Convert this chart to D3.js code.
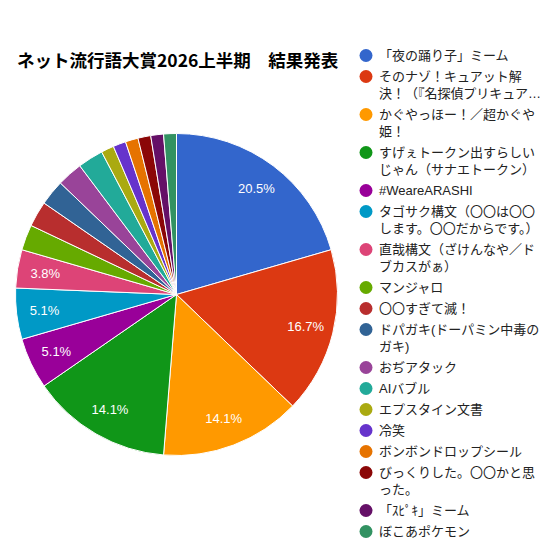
<!DOCTYPE html>
<html>
<head>
<meta charset="utf-8">
<script src="https://cdn.jsdelivr.net/npm/d3@7"></script>
<style>
  body { margin: 0; background: #fff; }
  svg { display: block; }
</style>
</head>
<body>
<div id="vis"></div>
<script>
// ranking data (votes out of 78)
const titleText = "ネット流行語大賞2026上半期　結果発表";

const labels = [
  "「夜の踊り子」ミーム",
  "そのナゾ！キュアット解決！（『名探偵プリキュア！』）",
  "かぐやっほー！／超かぐや姫！",
  "すげぇトークン出すらしいじゃん（サナエトークン）",
  "#WeareARASHI",
  "タゴサク構文（〇〇は〇〇します。〇〇だからです。）",
  "直哉構文（ざけんなや／ドブカスがぁ）",
  "マンジャロ",
  "〇〇すぎて滅！",
  "ドパガキ(ドーパミン中毒のガキ)",
  "おぢアタック",
  "AIバブル",
  "エプスタイン文書",
  "冷笑",
  "ボンボンドロップシール",
  "びっくりした。〇〇かと思った。",
  "「ｽﾋﾟｷ」ミーム",
  "ぼこあポケモン"
];

const votes = [16, 13, 11, 11, 4, 4, 3, 2, 2, 2, 2, 2, 1, 1, 1, 1, 1, 1];

const colors = [
  "#3366cc", "#dc3912", "#ff9900", "#109618", "#990099", "#0099c6",
  "#dd4477", "#66aa00", "#b82e2e", "#316395", "#994499", "#22aa99",
  "#aaaa11", "#6633cc", "#e67300", "#8b0707", "#651067", "#329262"
];

const width = 540;
const height = 540;
const cx = 176.5;
const cy = 294.5;
const radius = 161;
const font = "Arial, 'Liberation Sans', 'Noto Sans CJK JP', sans-serif";

const svg = d3.select("#vis")
    .append("svg")
    .attr("width", width)
    .attr("height", height);

// title
svg.append("text")
    .attr("x", 17)
    .attr("y", 67)
    .attr("font-family", "'Noto Sans CJK JP', sans-serif")
    .attr("font-size", 17.5)
    .attr("font-weight", "bold")
    .attr("fill", "#000")
    .text(titleText);

const total = d3.sum(votes);
const color = d3.scaleOrdinal().domain(d3.range(labels.length)).range(colors);

const pie = d3.pie().sort(null).value((d) => d);
const arcs = pie(votes);

const arc = d3.arc().innerRadius(0).outerRadius(radius);
const labelArc = d3.arc().innerRadius(radius * 0.826).outerRadius(radius * 0.826);

const g = svg.append("g")
    .attr("transform", "translate(" + cx + "," + cy + ")");

g.selectAll("path")
    .data(arcs)
    .enter()
    .append("path")
    .attr("d", arc)
    .attr("fill", (d, i) => color(i))
    .attr("stroke", "#fff")
    .attr("stroke-width", 1);

//only slices big enough get a percentage
g.selectAll("text")
    .data(arcs.filter((d) => d.value / total > 0.03))
    .enter()
    .append("text")
    .attr("transform", (d) => "translate(" + labelArc.centroid(d) + ")")
    .attr("text-anchor", "middle")
    .attr("dy", "0.35em")
    .attr("font-family", font)
    .attr("font-size", 13)
    .attr("fill", "#fff")
    .text((d) => (d.value / total * 100).toFixed(1) + "%");

// legend with wrapped text (max two lines)
const legendX = 366;
const textX = 379;
const maxW = 162;
const lineH = 17;
const gap = 4;
const noStart = "！？）」』。、・…)";

const measure = svg.append("text")
    .attr("font-family", font)
    .attr("font-size", 13)
    .attr("visibility", "hidden");

function textWidth(s) {
  measure.text(s);
  return measure.node().getComputedTextLength();
}

function wrap(s) {
  const chars = Array.from(s);
  if (textWidth(s) <= maxW) return [s];
  let end = 1;
  while (end < chars.length && textWidth(chars.slice(0, end + 1).join("")) <= maxW) end += 1;
  //don't start a line with closing punctuation
  while (end > 1 && noStart.includes(chars[end])) end -= 1;
  const first = chars.slice(0, end).join("");
  let rest = chars.slice(end);
  if (textWidth(rest.join("")) <= maxW) return [first, rest.join("")];
  while (textWidth(rest.join("") + "…") > maxW + 10) rest.pop();
  return [first, rest.join("") + "…"];
}

let y = 55.5;
labels.forEach((name, i) => {
  const lines = wrap(name);
  svg.append("circle")
      .attr("cx", legendX)
      .attr("cy", y)
      .attr("r", 6.5)
      .attr("fill", color(i));
  const t = svg.append("text")
      .attr("font-family", font)
      .attr("font-size", 13)
      .attr("fill", "#222");
  lines.forEach((l, k) => {
    const w = textWidth(l);
    const n = Array.from(l).length;
    t.append("tspan")
        .attr("x", textX)
        .attr("y", y + 4.5 + k * lineH)
        //squeeze a truncated line so the ellipsis stays inside
        .attr("letter-spacing", w > maxW ? ((maxW - w) / n) + "px" : null)
        .text(l);
  });
  y += lines.length * lineH + gap;
});

measure.remove();
</script>
</body>
</html>
